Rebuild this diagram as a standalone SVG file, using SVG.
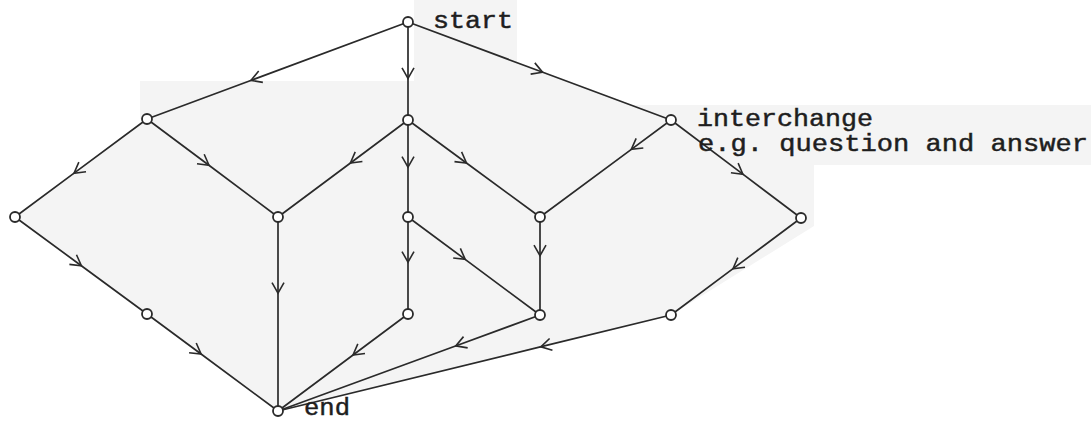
<svg xmlns="http://www.w3.org/2000/svg" width="1091" height="421" viewBox="0 0 1091 421">
<style>
.bg{fill:#f4f4f4;stroke:none}
.e{fill:none;stroke:#2a2a2a;stroke-width:1.7;marker-mid:url(#ar)}
.n{fill:#fff;stroke:#2a2a2a;stroke-width:1.8}
.t{font-family:"Liberation Mono","Courier New",monospace;font-size:23px;fill:#1e1e1e;stroke:#1e1e1e;stroke-width:0.45}
</style>
<defs>
<marker id="ar" markerUnits="userSpaceOnUse" viewBox="-12 -8 16 16" refX="0" refY="0" markerWidth="16" markerHeight="16" orient="auto" overflow="visible">
<path d="M-10,-6 L0.5,0 L-10,6" fill="none" stroke="#2a2a2a" stroke-width="1.6"/>
</marker>
</defs>
<rect width="1091" height="421" fill="#fff"/>
<path class="bg" d="M140,81 L414,81 L414,0 L517,0 L517,63 L631,105 L1091,105 L1091,165 L814,165 L814,226 L671,315 L278,411 L147,314 L15,217 L147,119 L140,119 Z"/>
<g id="connectors">
<path class="e" d="M408,22 L251.4,80.2 L147,119"/>
<path class="e" d="M408,22 L408,77.9 L408,120"/>
<path class="e" d="M408,22 L542.1,72 L671,120"/>
<path class="e" d="M147,119 L74.4,172.9 L15,217"/>
<path class="e" d="M147,119 L208.6,165 L278,217"/>
<path class="e" d="M408,120 L350.8,162.7 L278,217"/>
<path class="e" d="M408,120 L408,166.6 L408,217"/>
<path class="e" d="M408,120 L466.1,162.7 L540,217"/>
<path class="e" d="M671,120 L631.7,149.1 L540,217"/>
<path class="e" d="M671,120 L742.5,173.9 L801,218"/>
<path class="e" d="M15,217 L81,265.5 L147,314"/>
<path class="e" d="M147,314 L200.7,353.8 L278,411"/>
<path class="e" d="M278,217 L278,292.7 L278,411"/>
<path class="e" d="M408,217 L408,261.6 L408,314"/>
<path class="e" d="M408,217 L464.8,259.1 L540,315"/>
<path class="e" d="M540,217 L540,255.2 L540,315"/>
<path class="e" d="M801,218 L733.4,268.4 L671,315"/>
<path class="e" d="M408,314 L353.4,354.7 L278,411"/>
<path class="e" d="M540,315 L456.2,345.7 L278,411"/>
<path class="e" d="M671,315 L541.3,346.7 L278,411"/>
</g>
<g id="start"><circle class="n" cx="408" cy="22" r="5"/><text class="t" x="433" y="28" textLength="80" lengthAdjust="spacingAndGlyphs">start</text></g>
<g id="nA"><circle class="n" cx="147" cy="119" r="5"/></g>
<g id="nB"><circle class="n" cx="408" cy="120" r="5"/></g>
<g id="interchange"><circle class="n" cx="671" cy="120" r="5"/><text class="t" x="697" y="126" textLength="176" lengthAdjust="spacingAndGlyphs">interchange</text><text class="t" x="698" y="151" textLength="390" lengthAdjust="spacingAndGlyphs">e.g. question and answer</text></g>
<g id="nL"><circle class="n" cx="15" cy="217" r="5"/></g>
<g id="nC"><circle class="n" cx="278" cy="217" r="5"/></g>
<g id="nD"><circle class="n" cx="408" cy="217" r="5"/></g>
<g id="nE"><circle class="n" cx="540" cy="217" r="5"/></g>
<g id="nR"><circle class="n" cx="801" cy="218" r="5"/></g>
<g id="nF"><circle class="n" cx="147" cy="314" r="5"/></g>
<g id="nG"><circle class="n" cx="408" cy="314" r="5"/></g>
<g id="nH"><circle class="n" cx="540" cy="315" r="5"/></g>
<g id="nJ"><circle class="n" cx="671" cy="315" r="5"/></g>
<g id="end"><circle class="n" cx="278" cy="411" r="5"/><text class="t" x="304" y="415" textLength="46" lengthAdjust="spacingAndGlyphs">end</text></g>
</svg>
